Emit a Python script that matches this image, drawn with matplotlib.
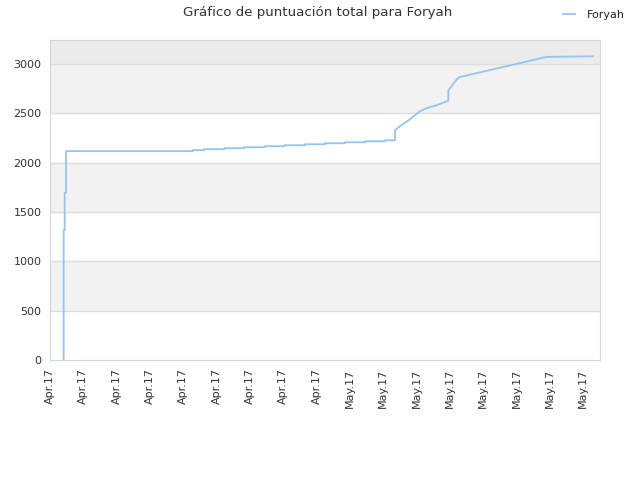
import matplotlib.pyplot as plt

# x in tick units (one unit per date label), y = total score
x_vals = [0.41, 0.41, 0.44, 0.44, 0.48, 0.48,
          4.28, 4.28, 4.62, 4.62, 5.23, 5.23, 5.83, 5.83, 6.43, 6.43,
          7.03, 7.03, 7.65, 7.65, 8.25, 8.25, 8.85, 8.85, 9.45, 9.45,
          10.05, 10.05, 10.35, 10.35,
          10.5, 10.8, 11.1, 11.3, 11.6, 11.95, 11.95,
          12.05, 12.2, 12.28, 14.9, 16.28]
scores = [0, 1317, 1317, 1695, 1695, 2118,
          2118, 2128, 2128, 2138, 2138, 2148, 2148, 2158, 2158, 2168,
          2168, 2178, 2178, 2188, 2188, 2198, 2198, 2208, 2208, 2218,
          2218, 2228, 2228, 2330,
          2371, 2442, 2523, 2553, 2584, 2630, 2736,
          2777, 2845, 2868, 3074, 3080]
tick_labels = ['Apr.17'] * 9 + ['May.17'] * 8

fig = plt.figure(figsize=(6.4, 4.8), dpi=100)
ax = fig.add_axes([50 / 640, 120 / 480, 550 / 640, 320 / 480])

# background bands
ax.axhspan(500, 1000, color='#f2f2f2', zorder=0, lw=0)
ax.axhspan(1500, 2000, color='#f2f2f2', zorder=0, lw=0)
ax.axhspan(2500, 3000, color='#f2f2f2', zorder=0, lw=0)
ax.axhspan(3000, 3300, color='#ececec', zorder=0, lw=0)
for v in range(500, 3001, 500):
    ax.axhline(v, color='#dddddd', lw=1, zorder=1)

ax.plot(x_vals, scores, color='#92c5f3', lw=1.3, label='Foryah', zorder=3)

ax.set_xlim(0, 16.5)
ax.set_ylim(0, 3245)
ax.set_xticks(range(len(tick_labels)))
ax.set_xticklabels(tick_labels, rotation=90)
ax.set_yticks(range(0, 3001, 500))
ax.tick_params(length=0, labelsize=8, labelcolor='#333333', pad=6)

for s in ax.spines.values():
    s.set_color('#d6d6d6')

fig.text(0.497, 0.973, 'Gráfico de puntuación total para Foryah', ha='center', va='center',
         fontsize=9.6, color='#333333')
leg = fig.legend(loc='center', bbox_to_anchor=(0.928, 0.968), frameon=False, fontsize=8,
                 handlelength=1.1, handletextpad=1.1)
for t in leg.get_texts():
    t.set_color('#222222')

fig.savefig('out.png')
